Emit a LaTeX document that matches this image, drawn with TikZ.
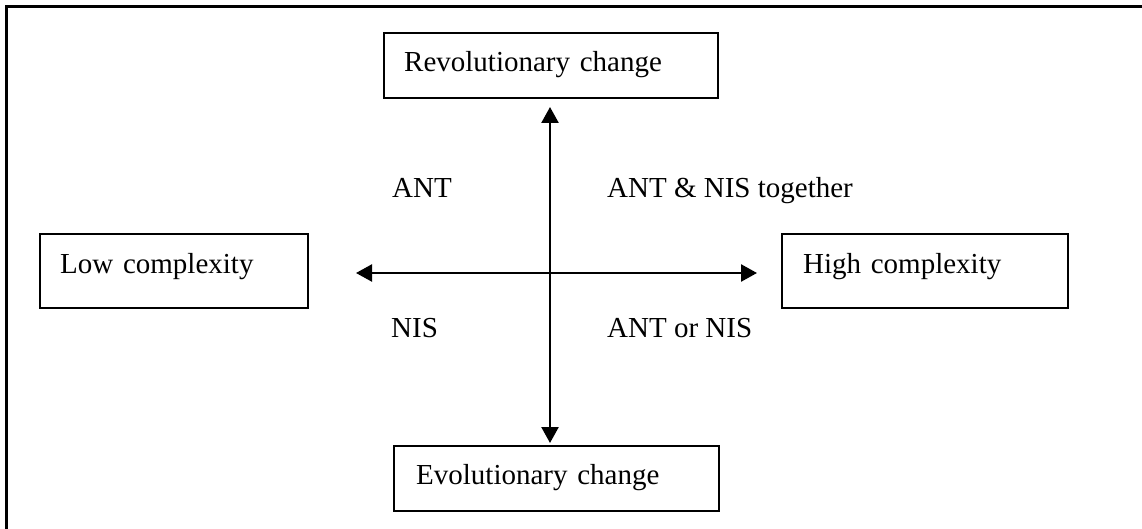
\documentclass[tikz,border=0pt]{standalone}
\usepackage{fontspec}
\setmainfont{Liberation Serif}
\usetikzlibrary{arrows.meta}
\begin{document}
\begin{tikzpicture}[x=1pt,y=-1pt,
  every node/.style={font=\fontsize{29}{34}\selectfont},
  boxnode/.style={draw, line width=2.4pt, anchor=north west, align=left, inner ysep=0pt},
  axis/.style={line width=2.4pt, {Triangle[length=16pt,width=17pt]}-{Triangle[length=16pt,width=17pt]}},
  lbl/.style={anchor=base west, inner sep=0pt}]
\useasboundingbox (0,0) rectangle (1142,529);
% frame (only top and left edges visible)
\draw[line width=2.6pt] (6.5,529) -- (6.5,6.5) -- (1142,6.5);
% boxes
\node[boxnode, inner xsep=20pt, text width=294pt, text height=38pt, text depth=27pt] (rev) at (383,32) {Revolutionary change};
\node[boxnode, inner xsep=22pt, text width=281pt, text height=38pt, text depth=27pt] (evo) at (393,445) {Evolutionary change};
\node[boxnode, inner xsep=20pt, text width=228pt, text height=39pt, text depth=35pt] (low) at (39,233) {Low complexity};
\node[boxnode, inner xsep=21pt, text width=244pt, text height=39pt, text depth=35pt] (high) at (781,233) {High complexity};
% axes
\coordinate (vt) at (550,107);
\coordinate (vb) at (550,443);
\coordinate (hl) at (356,273);
\coordinate (hr) at (757,273);
\draw[axis] (vb) -- (vt);
\draw[axis] (hl) -- (hr);
% quadrant labels
\node[lbl] (ant) at (392,198) {ANT};
\node[lbl] (both) at (607,198) {ANT \& NIS together};
\node[lbl] (nis) at (391,337) {NIS};
\node[lbl] (either) at (607,337) {ANT or NIS};
\end{tikzpicture}
\end{document}
